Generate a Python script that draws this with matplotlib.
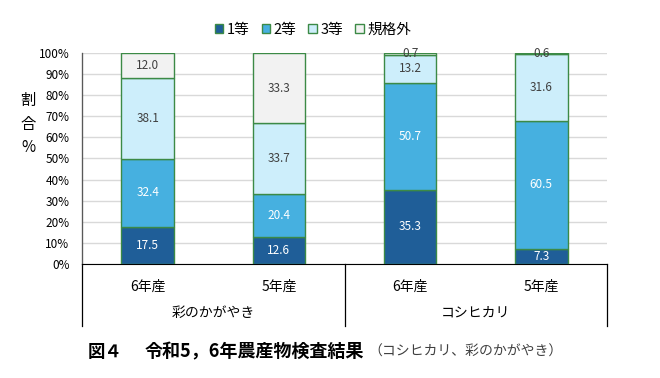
import matplotlib
matplotlib.use("Agg")
import matplotlib.pyplot as plt
import numpy as np
from matplotlib.lines import Line2D
from matplotlib.patches import Patch

plt.rcParams['font.family'] = ['Noto Sans CJK JP', 'DejaVu Sans']

years = ["6年産", "5年産", "6年産", "5年産"]
varieties = ["彩のかがやき", "コシヒカリ"]
series_names = ["1等", "2等", "3等", "規格外"]
grade1 = [17.5, 12.6, 35.3, 7.3]
grade2 = [32.4, 20.4, 50.7, 60.5]
grade3 = [38.1, 33.7, 13.2, 31.6]
outside = [12.0, 33.3, 0.7, 0.6]
yticks = [0, 10, 20, 30, 40, 50, 60, 70, 80, 90, 100]

colors = ["#1F5E98", "#46B0E0", "#CDEEFB", "#F2F2F2"]
txtcol = ["white", "white", "#404040", "#404040"]
edge = "#3C8A46"

fig = plt.figure(figsize=(6.6, 3.78), dpi=100)
ax = fig.add_axes([82/660, 1-264/378, 525/660, 211/378])

x = np.arange(len(years))
bottom = np.zeros(len(years))
data = [grade1, grade2, grade3, outside]
for vals, c, tc, name in zip(data, colors, txtcol, series_names):
    vals = np.array(vals)
    ax.bar(x, vals, 0.40, bottom=bottom, color=c, edgecolor=edge, linewidth=1.0, label=name, zorder=3)
    for xi, v, b in zip(x, vals, bottom):
        ax.text(xi, b + v/2, f"{v:.1f}", ha='center', va='center', color=tc, fontsize=8.5, zorder=4)
    bottom += vals

ax.set_xlim(-0.5, 3.5)
ax.set_ylim(0, 100)
ax.set_yticks(yticks)
ax.set_yticklabels([f"{t}%" for t in yticks], fontsize=8.5)
ax.yaxis.grid(True, color="#D9D9D9", linewidth=1, zorder=0)
ax.set_xticks([])
ax.tick_params(axis='y', length=0, pad=9)
for s in ['top', 'right']:
    ax.spines[s].set_visible(False)
ax.spines['left'].set_color('#595959')
ax.spines['bottom'].set_color('black')

# category table lines
depth = -(326-264)/211 * 100
for xv in [-0.5, 1.5, 3.5]:
    ax.add_line(Line2D([xv, xv], [0, depth], color='black', linewidth=0.9, clip_on=False))
ax.add_line(Line2D([-0.5, -0.5], [0, 100], color='#595959', linewidth=0.9, clip_on=False))

for xi, yl in zip(x, years):
    ax.text(xi, -(287-264)/211*100, yl, ha='center', va='center', fontsize=10)
for i, v in enumerate(varieties):
    ax.text(0.5 + 2*i, -(313-264)/211*100, v, ha='center', va='center', fontsize=10)

fig.text(28/660, 1-124/378, "割\n合\n%", ha='center', va='center', fontsize=11, linespacing=1.5)

handles = [Patch(facecolor=c, edgecolor=edge, linewidth=1.0) for c in colors]
fig.legend(handles, series_names, loc='center', bbox_to_anchor=(313/660, 1-30/378), ncol=4,
           frameon=False, fontsize=10.5, handlelength=0.6, handleheight=0.6, handletextpad=0.25,
           columnspacing=0.8)

fig.text(88/660, 1-352/378, "図４", ha='left', va='center', fontsize=12.5, fontweight='bold')
fig.text(145/660, 1-352/378, "令和5，6年農産物検査結果", ha='left', va='center', fontsize=13, fontweight='bold')
fig.text(368/660, 1-352/378, "（コシヒカリ、彩のかがやき）", ha='left', va='center', fontsize=10, color='#404040')

fig.savefig("out.png", dpi=100)
